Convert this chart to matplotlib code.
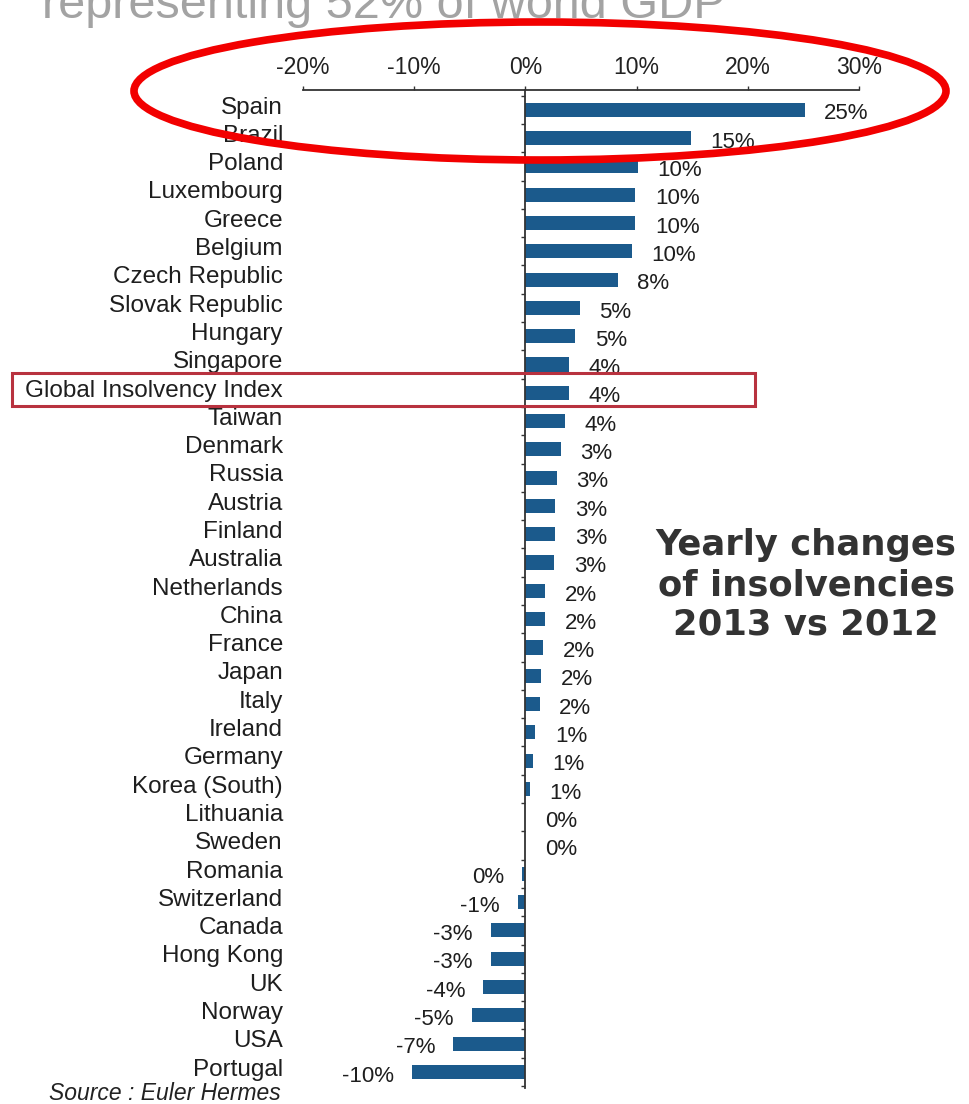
import matplotlib
matplotlib.use("Agg")
import matplotlib.pyplot as plt
from matplotlib.patches import Ellipse, Rectangle
from matplotlib.transforms import blended_transform_factory
from matplotlib.ticker import FixedLocator, FuncFormatter

countries = ["Spain", "Brazil", "Poland", "Luxembourg", "Greece", "Belgium",
             "Czech Republic", "Slovak Republic", "Hungary", "Singapore",
             "Global Insolvency Index", "Taiwan", "Denmark", "Russia", "Austria",
             "Finland", "Australia", "Netherlands", "China", "France", "Japan",
             "Italy", "Ireland", "Germany", "Korea (South)", "Lithuania", "Sweden",
             "Romania", "Switzerland", "Canada", "Hong Kong", "UK", "Norway",
             "USA", "Portugal"]
values = [25.1, 14.9, 10.1, 9.9, 9.9, 9.6, 8.3, 4.9, 4.5, 3.9, 3.9, 3.6, 3.2,
          2.8, 2.7, 2.7, 2.6, 1.8, 1.8, 1.6, 1.4, 1.3, 0.9, 0.7, 0.4, 0.0, 0.0,
          -0.3, -0.7, -3.1, -3.1, -3.8, -4.8, -6.5, -10.2]
value_labels = ["25%", "15%", "10%", "10%", "10%", "10%", "8%", "5%", "5%", "4%",
                "4%", "4%", "3%", "3%", "3%", "3%", "3%", "2%", "2%", "2%", "2%",
                "2%", "1%", "1%", "1%", "0%", "0%", "0%", "-1%", "-3%", "-3%",
                "-4%", "-5%", "-7%", "-10%"]
x_ticks = [-20, -10, 0, 10, 20, 30]

W, H = 969, 1104
fig = plt.figure(figsize=(W / 100, H / 100), dpi=100)
fig.patch.set_facecolor("white")

def fx(px):
    return px / W

def fy(py):
    return 1 - py / H

ax_left, ax_right = fx(303), fx(859)
ax_top, ax_bottom = fy(90), fy(1088)
ax = fig.add_axes([ax_left, ax_bottom, ax_right - ax_left, ax_top - ax_bottom])

n = len(countries)
ypos = list(range(n))
ax.barh(ypos, values, height=0.5, color="#1b5a8c", zorder=2)
ax.set_xlim(-20, 30)
ax.set_ylim(n - 1 + 0.57, -0.7)

# axes styling
for s in ["right", "bottom"]:
    ax.spines[s].set_visible(False)
ax.spines["top"].set_color("#333333")
ax.spines["top"].set_linewidth(1.3)
ax.spines["left"].set_position(("data", 0))
ax.spines["left"].set_color("#333333")
ax.spines["left"].set_linewidth(1.3)

ax.xaxis.set_ticks_position("top")
ax.set_xticks(x_ticks)
ax.xaxis.set_major_formatter(FuncFormatter(lambda v, p: f"{int(v)}%"))
ax.tick_params(axis="x", direction="out", length=3, width=1, pad=5,
               labelsize=16.5, colors="#333333")
for lab in ax.get_xticklabels():
    lab.set_fontfamily("Liberation Sans")
    lab.set_color("#222222")

ax.set_yticks([])
ax.yaxis.set_minor_locator(FixedLocator([i + 0.5 for i in range(-1, n)]))
ax.tick_params(axis="y", which="minor", direction="out", length=3, width=1,
               color="#333333")

# category labels
trans = blended_transform_factory(ax.transAxes, ax.transData)
for i, c in enumerate(countries):
    ax.text(-0.036, i - 0.08, c, transform=trans, ha="right", va="center",
            fontsize=17.5, family="Liberation Sans", color="#1e1e1e")

# value labels
for i, (v, lab) in enumerate(zip(values, value_labels)):
    if v >= 0:
        ax.annotate(lab, (v, i), xytext=(14, -3), textcoords="offset points",
                    ha="left", va="center", fontsize=16,
                    family="Liberation Sans", color="#1e1e1e")
    else:
        ax.annotate(lab, (v, i), xytext=(-13, -3), textcoords="offset points",
                    ha="right", va="center", fontsize=16,
                    family="Liberation Sans", color="#1e1e1e")

# cut-off title at the top (partially outside the picture, as in the source)
fig.text(fx(42), fy(18), "representing 52% of world GDP", ha="left",
         va="baseline", fontsize=35, family="Liberation Sans", color="#a3a3a3")

# side caption
fig.text(fx(806), fy(585), "Yearly changes\nof insolvencies\n2013 vs 2012",
         ha="center", va="center", fontsize=25.5, fontweight="bold",
         family="DejaVu Sans", color="#333333", linespacing=1.22)

# source
fig.text(fx(281), fy(1093), "Source : Euler Hermes", ha="right", va="center",
         fontsize=16.5, style="italic", family="Liberation Sans", color="#222222")

# highlight rectangle around global index
fig.patches.append(Rectangle((fx(12), fy(406)), fx(755) - fx(12), fy(373) - fy(406),
                             transform=fig.transFigure, fill=False,
                             edgecolor="#b8323f", linewidth=2.2, zorder=5))

# red ellipse
fig.patches.append(Ellipse((fx(540), fy(91)), fx(812), 138 / H,
                           transform=fig.transFigure, fill=False,
                           edgecolor="#f20000", linewidth=5.5, zorder=6))

fig.savefig("out.png", dpi=100, facecolor="white")
